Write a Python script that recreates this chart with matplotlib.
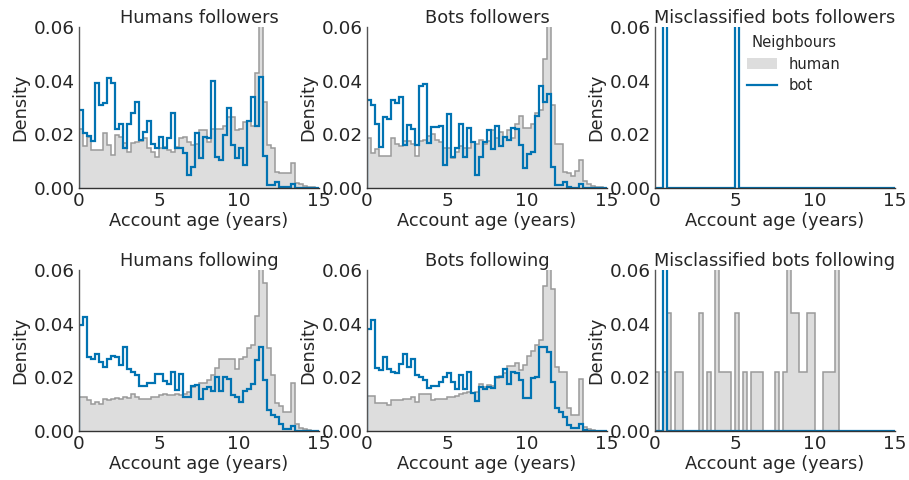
import numpy as np
import matplotlib
matplotlib.use("Agg")
import matplotlib.pyplot as plt
from matplotlib.patches import Patch
from matplotlib.lines import Line2D

# histogram bins: 0.25 years from 0 to 15
bin_edges = np.arange(0, 15.25, 0.25)

titles = ["Humans followers", "Bots followers", "Misclassified bots followers",
          "Humans following", "Bots following", "Misclassified bots following"]

# density of neighbour account age, human neighbours
hum_followers_human = [
    0.022, 0.0157, 0.019, 0.014, 0.014, 0.014, 0.0204, 0.016, 0.0122, 0.0197,
    0.019, 0.0169, 0.0135, 0.0166, 0.0173, 0.0177, 0.0185, 0.0148, 0.0135, 0.0117,
    0.0148, 0.0154, 0.0141, 0.0135, 0.0154, 0.0185, 0.019, 0.0173, 0.016, 0.0165,
    0.0215, 0.0215, 0.017, 0.022, 0.022, 0.022, 0.023, 0.0265, 0.0265, 0.0215,
    0.022, 0.0245, 0.025, 0.023, 0.043, 0.09, 0.032, 0.016, 0.015, 0.006,
    0.0055, 0.0055, 0.0055, 0.0095, 0.002, 0.0015, 0.0008, 0.0005, 0.0002, 0.0]
bot_followers_human = [
    0.0185, 0.013, 0.0145, 0.012, 0.012, 0.012, 0.0185, 0.0165, 0.0155, 0.0175,
    0.0175, 0.0165, 0.012, 0.0175, 0.018, 0.0195, 0.02, 0.018, 0.017, 0.015,
    0.015, 0.011, 0.0135, 0.0155, 0.015, 0.015, 0.017, 0.0165, 0.018, 0.0165,
    0.0175, 0.0215, 0.0185, 0.021, 0.019, 0.0215, 0.0185, 0.024, 0.027, 0.0225,
    0.0225, 0.024, 0.028, 0.029, 0.048, 0.09, 0.031, 0.0165, 0.0165, 0.006,
    0.0055, 0.0045, 0.0065, 0.0105, 0.0025, 0.0015, 0.0008, 0.0004, 0.0002, 0.0]
mis_followers_human = None
hum_following_human = [
    0.0127, 0.0127, 0.0114, 0.0102, 0.0108, 0.0102, 0.0118, 0.0114, 0.012, 0.0122,
    0.0118, 0.0127, 0.0122, 0.0139, 0.0127, 0.012, 0.0118, 0.012, 0.0127, 0.0127,
    0.0133, 0.0139, 0.0133, 0.0135, 0.0139, 0.0135, 0.0139, 0.0145, 0.0165, 0.017,
    0.018, 0.018, 0.019, 0.021, 0.0235, 0.027, 0.027, 0.027, 0.027, 0.023,
    0.027, 0.0275, 0.031, 0.032, 0.043, 0.08, 0.055, 0.031, 0.021, 0.0105,
    0.0095, 0.007, 0.007, 0.018, 0.0025, 0.001, 0.0006, 0.0003, 0.0001, 0.0]
bot_following_human = [
    0.013, 0.013, 0.0103, 0.0103, 0.0106, 0.0097, 0.0115, 0.0115, 0.0115, 0.0118,
    0.012, 0.0125, 0.011, 0.0137, 0.0137, 0.0137, 0.0115, 0.0118, 0.0118, 0.012,
    0.0125, 0.0127, 0.013, 0.0137, 0.0143, 0.0147, 0.014, 0.0147, 0.0177, 0.0165,
    0.017, 0.0167, 0.0197, 0.0205, 0.0215, 0.0242, 0.0242, 0.0255, 0.0228, 0.0245,
    0.028, 0.03, 0.032, 0.034, 0.054, 0.08, 0.053, 0.024, 0.022, 0.022,
    0.0085, 0.006, 0.006, 0.0195, 0.0015, 0.0007, 0.0004, 0.0002, 0.0001, 0.0]
mis_following_human = [
    0.022, 0.0, 0.022, 0.044, 0.0, 0.022, 0.022, 0.0, 0.0, 0.0,
    0.0, 0.044, 0.0, 0.022, 0.0, 0.067, 0.022, 0.022, 0.022, 0.0,
    0.044, 0.0, 0.022, 0.0, 0.022, 0.022, 0.022, 0.0, 0.0, 0.0,
    0.022, 0.0, 0.022, 0.067, 0.044, 0.044, 0.022, 0.022, 0.044, 0.044,
    0.0, 0.0, 0.022, 0.022, 0.022, 0.067, 0.0, 0.0, 0.0, 0.0,
    0.0, 0.0, 0.0, 0.0, 0.0, 0.0, 0.0, 0.0, 0.0, 0.0]

# density of neighbour account age, bot neighbours
hum_followers_bot = [
    0.029, 0.0204, 0.0194, 0.0176, 0.039, 0.031, 0.0315, 0.041, 0.039, 0.022,
    0.024, 0.015, 0.024, 0.028, 0.032, 0.018, 0.021, 0.025, 0.0165, 0.015,
    0.019, 0.015, 0.0185, 0.028, 0.015, 0.015, 0.013, 0.005, 0.008, 0.0204,
    0.011, 0.019, 0.0185, 0.04, 0.0117, 0.0104, 0.0197, 0.0297, 0.016, 0.011,
    0.0148, 0.0086, 0.025, 0.034, 0.023, 0.0415, 0.012, 0.001, 0.001, 0.0024,
    0.0005, 0.0005, 0.0005, 0.0014, 0.0, 0.0, 0.0, 0.0, 0.0, 0.0]
bot_followers_bot = [
    0.0328, 0.031, 0.0237, 0.0154, 0.0266, 0.0257, 0.0328, 0.0318, 0.0338, 0.016,
    0.0235, 0.0219, 0.016, 0.038, 0.0388, 0.0166, 0.0226, 0.0226, 0.023, 0.0086,
    0.0275, 0.0117, 0.0148, 0.0237, 0.0117, 0.0225, 0.017, 0.0048, 0.0114, 0.017,
    0.0215, 0.0145, 0.023, 0.0155, 0.019, 0.018, 0.0225, 0.022, 0.016, 0.0075,
    0.0125, 0.0135, 0.027, 0.038, 0.032, 0.035, 0.008, 0.001, 0.001, 0.0024,
    0.0005, 0.0, 0.0, 0.0014, 0.0, 0.0, 0.0, 0.0, 0.0, 0.0]
mis_followers_bot = [0.0] * 60
mis_followers_bot[2] = 2.0
mis_followers_bot[20] = 2.0
hum_following_bot = [
    0.0394, 0.0425, 0.0276, 0.027, 0.0288, 0.0257, 0.0239, 0.027, 0.0278, 0.0276,
    0.0245, 0.0313, 0.023, 0.022, 0.021, 0.0168, 0.0166, 0.018, 0.018, 0.0214,
    0.0214, 0.0185, 0.0176, 0.022, 0.0152, 0.0214, 0.0127, 0.0127, 0.0168, 0.017,
    0.012, 0.0158, 0.0164, 0.015, 0.02, 0.015, 0.02, 0.0195, 0.0133, 0.0127,
    0.0108, 0.015, 0.0158, 0.0176, 0.0263, 0.0313, 0.0189, 0.0077, 0.0058, 0.0052,
    0.0027, 0.0009, 0.0009, 0.002, 0.0, 0.0, 0.0, 0.0, 0.0, 0.0]
bot_following_bot = [
    0.0379, 0.0414, 0.0236, 0.0227, 0.0275, 0.0233, 0.022, 0.0217, 0.025, 0.0287,
    0.024, 0.0267, 0.0208, 0.0201, 0.019, 0.0159, 0.0169, 0.0169, 0.0184, 0.0201,
    0.0215, 0.0184, 0.0157, 0.0208, 0.0157, 0.022, 0.014, 0.0112, 0.0165, 0.0157,
    0.0165, 0.016, 0.0201, 0.0201, 0.0233, 0.0177, 0.022, 0.0215, 0.019, 0.0122,
    0.0122, 0.0199, 0.0201, 0.0314, 0.0312, 0.0295, 0.0184, 0.0085, 0.0072, 0.0053,
    0.0022, 0.001, 0.001, 0.0025, 0.0003, 0.0, 0.0, 0.0, 0.0, 0.0]
mis_following_bot = [0.0] * 60
mis_following_bot[2] = 4.0

human_series = [hum_followers_human, bot_followers_human, mis_followers_human,
                hum_following_human, bot_following_human, mis_following_human]
bot_series = [hum_followers_bot, bot_followers_bot, mis_followers_bot,
              hum_following_bot, bot_following_bot, mis_following_bot]

FILL = "#dddddd"
EDGE = "#9a9a9a"
BLUE = "#0173b2"
TXT = "#262626"
FS = 12.8

plt.rcParams["font.family"] = "DejaVu Sans"
fig, axes = plt.subplots(2, 3, figsize=(9.09, 4.8), dpi=100)
fig.subplots_adjust(left=0.0869, right=0.9846, top=0.9438, bottom=0.102,
                    wspace=0.2, hspace=0.509)

for ax, title, hum, bot in zip(axes.flat, titles, human_series, bot_series):
    if hum is not None:
        ax.stairs(hum, bin_edges, fill=True, facecolor=FILL, edgecolor=EDGE,
                  linewidth=1.1)
    ax.stairs(bot, bin_edges, baseline=0, color=BLUE, linewidth=1.6)
    ax.set_xlim(0, 15)
    ax.set_ylim(0, 0.06)
    ax.set_xticks([0, 5, 10, 15])
    ax.set_yticks([0, 0.02, 0.04, 0.06])
    ax.set_yticklabels(["0.00", "0.02", "0.04", "0.06"])
    ax.tick_params(length=0, labelsize=13.2, colors=TXT, pad=3)
    ax.set_xlabel("Account age (years)", fontsize=FS, color=TXT, labelpad=1)
    ax.set_ylabel("Density", fontsize=FS, color=TXT, labelpad=3)
    ax.set_title(title, fontsize=FS, color=TXT, pad=3)
    for s in ["top", "right"]:
        ax.spines[s].set_visible(False)
    ax.spines["left"].set_color("#555555")
    ax.spines["bottom"].set_color("#333333")
    ax.spines["left"].set_linewidth(1.0)
    ax.spines["bottom"].set_linewidth(1.0)

handles = [Patch(facecolor=FILL, edgecolor="none", label="human"),
           Line2D([], [], color=BLUE, linewidth=1.6, label="bot")]
leg = axes[0, 2].legend(handles=handles, title="Neighbours", loc="upper left",
                        bbox_to_anchor=(0.33, 1.032), frameon=False,
                        fontsize=10.6, title_fontsize=10.6, labelspacing=0.45)
for t in leg.get_texts():
    t.set_color(TXT)
leg.get_title().set_color(TXT)

fig.savefig("out.png", dpi=100)
